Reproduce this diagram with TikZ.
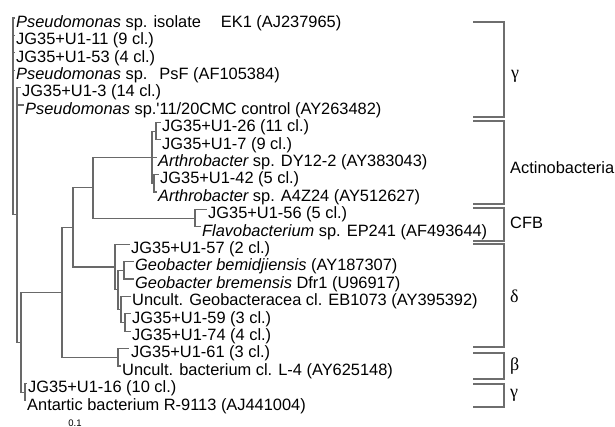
\documentclass[tikz,border=0pt]{standalone}
\usepackage{fontspec}
\newfontfamily\arialf{Liberation Sans}
\newfontfamily\timesf{Liberation Serif}
\definecolor{treegray}{RGB}{105,105,105}
\definecolor{brgray}{RGB}{110,110,110}
\begin{document}
\begin{tikzpicture}[x=1pt,y=-1pt,
  tree/.style={draw=treegray, line width=1.1pt},
  brk/.style={draw=brgray, line width=1.1pt},
  lf/.style={anchor=west, inner sep=0pt, font=\arialf\fontsize{16.4}{17}\selectfont, text height=11.8pt, text depth=3.3pt},
  grk/.style={anchor=west, inner sep=0pt, font=\timesf\fontsize{18}{20}\selectfont},
  grp/.style={anchor=west, inner sep=0pt, font=\arialf\fontsize{16.4}{17}\selectfont}]
\useasboundingbox[fill=white] (0,0) rectangle (615,427);

% ---- leaf labels ----
\node[lf] (t1)  at (16,23)    {\itshape Pseudomonas\upshape{} sp. isolate\hspace{20pt}EK1 (AJ237965)};
\node[lf] (t2)  at (16,40.4)  {JG35+U1-11 (9 cl.)};
\node[lf] (t3)  at (16,57.8)  {JG35+U1-53 (4 cl.)};
\node[lf] (t4)  at (16,75.2)  {\itshape Pseudomonas\upshape{} sp.\hspace{12pt}PsF (AF105384)};
\node[lf] (t5)  at (22,92.6)  {JG35+U1-3 (14 cl.)};
\node[lf] (t6)  at (25,110)   {\itshape Pseudomonas\upshape{} sp.'11/20CMC control (AY263482)};
\node[lf] (t7)  at (162,127.4) {JG35+U1-26 (11 cl.)};
\node[lf] (t8)  at (162,144.8) {JG35+U1-7 (9 cl.)};
\node[lf] (t9)  at (158,162.2) {\itshape Arthrobacter\upshape{} sp. DY12-2 (AY383043)};
\node[lf] (t10) at (160,179.6) {JG35+U1-42 (5 cl.)};
\node[lf] (t11) at (158,197)   {\itshape Arthrobacter\upshape{} sp. A4Z24 (AY512627)};
\node[lf] (t12) at (208,214.4) {JG35+U1-56 (5 cl.)};
\node[lf] (t13) at (202,231.8) {\itshape Flavobacterium\upshape{} sp. EP241 (AF493644)};
\node[lf] (t14) at (131,249.2) {JG35+U1-57 (2 cl.)};
\node[lf] (t15) at (135,266.6) {\itshape Geobacter bemidjiensis\upshape{} (AY187307)};
\node[lf] (t16) at (135,284)   {\itshape Geobacter bremensis\upshape{} Dfr1 (U96917)};
\node[lf] (t17) at (132,301.4) {Uncult. Geobacteracea cl. EB1073 (AY395392)};
\node[lf] (t18) at (132,318.8) {JG35+U1-59 (3 cl.)};
\node[lf] (t19) at (132,336.2) {JG35+U1-74 (4 cl.)};
\node[lf] (t20) at (131,353.6) {JG35+U1-61 (3 cl.)};
\node[lf] (t21) at (122,371)   {Uncult. bacterium cl. L-4 (AY625148)};
\node[lf] (t22) at (28,388.4)  {JG35+U1-16 (10 cl.)};
\node[lf] (t23) at (27,405.8)  {Antartic bacterium R-9113 (AJ441004)};

\node[anchor=center, inner sep=0pt, font=\arialf\fontsize{9.5}{10}\selectfont] (scale) at (75,423) {0.1};

% ---- tree coordinates ----
\coordinate (root) at (13,214.9);
\coordinate (l1) at (15,18);
\coordinate (l2) at (15,35.4);
\coordinate (l3) at (15,52.8);
\coordinate (l4) at (15,70.2);
\coordinate (A) at (17,214.9);
\coordinate (l5) at (21,87.6);
\coordinate (l6) at (24,105);
\coordinate (B) at (21,342.2);
\coordinate (D) at (25,392.1);
\coordinate (l22) at (27,383.4);
\coordinate (l23) at (26,400.8);
\coordinate (C) at (62,292.3);
\coordinate (F) at (118,357.3);
\coordinate (l20) at (129,348.6);
\coordinate (l21) at (121,366);
\coordinate (E) at (73,227.35);
\coordinate (G) at (93,187.65);
\coordinate (I) at (152,157.2);
\coordinate (l9) at (157,157.2);
\coordinate (J) at (156,131.1);
\coordinate (l7) at (160.5,122.4);
\coordinate (l8) at (160.5,139.8);
\coordinate (K) at (154,183.3);
\coordinate (l10) at (158.5,174.6);
\coordinate (l11) at (157,192);
\coordinate (CFB) at (195,218.1);
\coordinate (l12) at (206.5,209.4);
\coordinate (l13) at (200.5,226.8);
\coordinate (H) at (115,267.05);
\coordinate (l14) at (129.5,244.2);
\coordinate (M) at (118,289.9);
\coordinate (P) at (124,270.3);
\coordinate (l15) at (133.5,261.6);
\coordinate (l16) at (133.5,279);
\coordinate (N) at (121,309.45);
\coordinate (l17) at (130.5,296.4);
\coordinate (Q) at (125,322.5);
\coordinate (l18) at (130.5,313.8);
\coordinate (l19) at (130.5,331.2);

% ---- tree branches ----
\draw[tree] (root) |- (l1) (root) |- (l2) (root) |- (l3) (root) |- (l4) (root) -- (A);
\draw[tree] (A) |- (l5) (A) |- (l6) (A) |- (B);
\draw[tree] (B) |- (C) (B) |- (D);
\draw[tree] (D) |- (l22) (D) |- (l23);
\draw[tree] (C) |- (E) (C) |- (F);
\draw[tree] (F) |- (l20) (F) |- (l21);
\draw[tree] (E) |- (G) (E) |- (H);
\draw[tree] (G) |- (I) (G) |- (CFB);
\draw[tree] (I) |- (J) (I) -- (l9) (I) |- (K);
\draw[tree] (J) |- (l7) (J) |- (l8);
\draw[tree] (K) |- (l10) (K) |- (l11);
\draw[tree] (CFB) |- (l12) (CFB) |- (l13);
\draw[tree] (H) |- (l14) (H) |- (M);
\draw[tree] (M) |- (P) (M) |- (N);
\draw[tree] (P) |- (l15) (P) |- (l16);
\draw[tree] (N) |- (l17) (N) |- (Q);
\draw[tree] (Q) |- (l18) (Q) |- (l19);

% ---- group brackets ----
\coordinate (g1a) at (473,22);  \coordinate (g1b) at (504,22);
\coordinate (g1c) at (504,117); \coordinate (g1d) at (473,117);
\coordinate (g2a) at (473,121); \coordinate (g2b) at (504,121);
\coordinate (g2c) at (504,204); \coordinate (g2d) at (473,204);
\coordinate (g3a) at (473,208); \coordinate (g3b) at (504,208);
\coordinate (g3c) at (504,241); \coordinate (g3d) at (473,241);
\coordinate (g4a) at (473,244); \coordinate (g4b) at (504,244);
\coordinate (g4c) at (504,347); \coordinate (g4d) at (473,347);
\coordinate (g5a) at (473,353); \coordinate (g5b) at (504,353);
\coordinate (g5c) at (504,379); \coordinate (g5d) at (473,379);
\coordinate (g6a) at (473,384); \coordinate (g6b) at (504,384);
\coordinate (g6c) at (504,407); \coordinate (g6d) at (473,407);
\draw[brk] (g1a) -- (g1b) -- (g1c) -- (g1d);
\draw[brk] (g2a) -- (g2b) -- (g2c) -- (g2d);
\draw[brk] (g3a) -- (g3b) -- (g3c) -- (g3d);
\draw[brk] (g4a) -- (g4b) -- (g4c) -- (g4d);
\draw[brk] (g5a) -- (g5b) -- (g5c) -- (g5d);
\draw[brk] (g6a) -- (g6b) -- (g6c) -- (g6d);

\node[grk] (gam1) at (511,76)  {γ};
\node[grp] (act)  at (510,168) {Actinobacteria};
\node[grp] (cfb)  at (510,223) {CFB};
\node[grk] (del)  at (510,296) {δ};
\node[grk] (bet)  at (510,366) {β};
\node[grk] (gam2) at (510,395) {γ};
\end{tikzpicture}
\end{document}
